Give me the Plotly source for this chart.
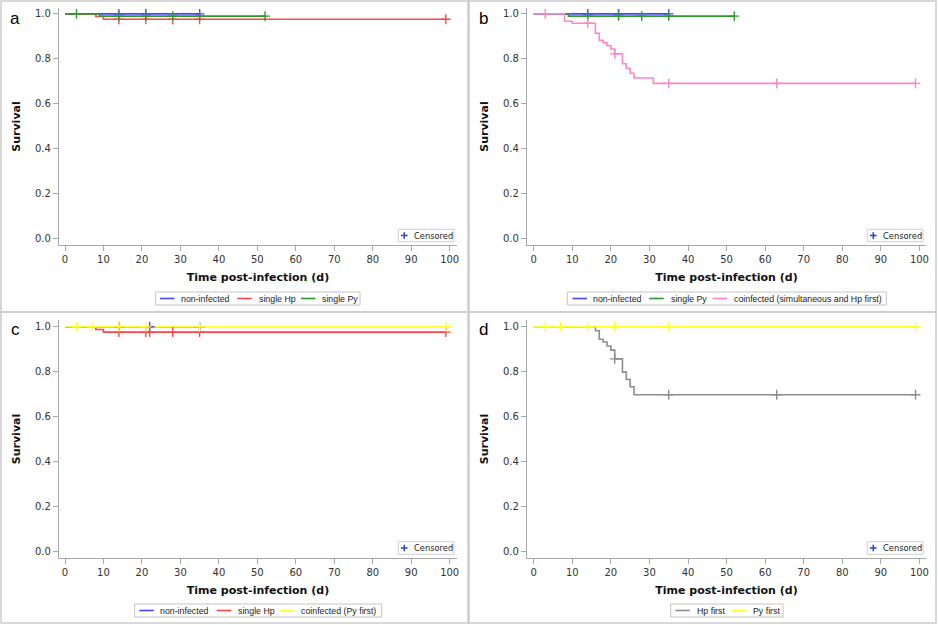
import plotly.graph_objects as go

# ---------------- data ----------------
# Panel a
a_noninf_evt_t = []
a_noninf_evt_s = []
a_noninf_end = 35
a_noninf_cens = [14, 21, 35]

a_hp_evt_t = [8, 10]
a_hp_evt_s = [0.988, 0.976]
a_hp_end = 99
a_hp_cens = [14, 21, 28, 35, 99]

a_py_evt_t = [9]
a_py_evt_s = [0.99]
a_py_end = 52
a_py_cens = [3, 14, 21, 28, 35, 52]

# Panel b
b_noninf_evt_t = []
b_noninf_evt_s = []
b_noninf_end = 35
b_noninf_cens = [14, 22, 35]

b_py_evt_t = [9]
b_py_evt_s = [0.99]
b_py_end = 52
b_py_cens = [14, 22, 28, 35, 52]

b_coinf_evt_t = [8, 10, 16, 17, 18, 19, 20, 21, 23, 24, 25, 26, 31]
b_coinf_evt_s = [0.967, 0.958, 0.914, 0.882, 0.872, 0.858, 0.844, 0.822,
                 0.778, 0.757, 0.736, 0.715, 0.691]
b_coinf_end = 99
b_coinf_cens = [3, 14, 21, 35, 63, 99]

# Panel c
c_noninf_evt_t = []
c_noninf_evt_s = []
c_noninf_end = 35
c_noninf_cens = [14, 22, 35]

c_hp_evt_t = [8, 10]
c_hp_evt_s = [0.988, 0.976]
c_hp_end = 99
c_hp_cens = [14, 21, 22, 28, 35, 99]

c_pyfirst_evt_t = []
c_pyfirst_evt_s = []
c_pyfirst_end = 99
c_pyfirst_cens = [3, 7, 14, 21, 35, 99]

# Panel d
d_hpfirst_evt_t = [16, 17, 18, 19, 20, 21, 23, 24, 25, 26]
d_hpfirst_evt_s = [0.982, 0.944, 0.932, 0.914, 0.896, 0.857, 0.798, 0.765, 0.733, 0.697]
d_hpfirst_end = 99
d_hpfirst_cens = [21, 35, 63, 99]

d_pyfirst_evt_t = []
d_pyfirst_evt_s = []
d_pyfirst_end = 99
d_pyfirst_cens = [3, 7, 14, 21, 35, 99]

x_ticks = [0, 10, 20, 30, 40, 50, 60, 70, 80, 90, 100]
y_ticks = [0.0, 0.2, 0.4, 0.6, 0.8, 1.0]
y_tick_labels = ["0.0", "0.2", "0.4", "0.6", "0.8", "1.0"]
panel_letters = ["a", "b", "c", "d"]
x_title = "Time post-infection (d)"
y_title = "Survival"
censored_label = "Censored"

# ---------------- styling ----------------
W, H = 938, 625
BLUE = "#4646ff"
RED = "#ff4646"
GREEN = "#2e9a2e"
PINK = "#ff85c6"
YELLOW = "#ffff2a"
GRAY = "#8e8e8e"
CENS = "#2a4fc0"

panels = [
    [("non-infected", BLUE, a_noninf_evt_t, a_noninf_evt_s, a_noninf_end, a_noninf_cens),
     ("single Hp", RED, a_hp_evt_t, a_hp_evt_s, a_hp_end, a_hp_cens),
     ("single Py", GREEN, a_py_evt_t, a_py_evt_s, a_py_end, a_py_cens)],
    [("non-infected", BLUE, b_noninf_evt_t, b_noninf_evt_s, b_noninf_end, b_noninf_cens),
     ("single Py", GREEN, b_py_evt_t, b_py_evt_s, b_py_end, b_py_cens),
     ("coinfected (simultaneous and Hp first)", PINK, b_coinf_evt_t, b_coinf_evt_s,
      b_coinf_end, b_coinf_cens)],
    [("non-infected", BLUE, c_noninf_evt_t, c_noninf_evt_s, c_noninf_end, c_noninf_cens),
     ("single Hp", RED, c_hp_evt_t, c_hp_evt_s, c_hp_end, c_hp_cens),
     ("coinfected (Py first)", YELLOW, c_pyfirst_evt_t, c_pyfirst_evt_s,
      c_pyfirst_end, c_pyfirst_cens)],
    [("Hp first", GRAY, d_hpfirst_evt_t, d_hpfirst_evt_s, d_hpfirst_end, d_hpfirst_cens),
     ("Py first", YELLOW, d_pyfirst_evt_t, d_pyfirst_evt_s, d_pyfirst_end, d_pyfirst_cens)],
]
suffixes = ["", "2", "3", "4"]

# pixel geometry of each panel (plot area) and axis ranges
geom = [
    dict(l=59, r=457, t=8, b=245, xr=[-1.56, 101.9], yr=[-0.027, 1.026], ox=0, oy=0),
    dict(l=527, r=926, t=8, b=245, xr=[-1.74, 101.7], yr=[-0.027, 1.026], ox=468, oy=0),
    dict(l=59, r=457, t=320, b=558, xr=[-1.56, 101.9], yr=[-0.030, 1.03], ox=0, oy=311),
    dict(l=527, r=926, t=320, b=558, xr=[-1.74, 101.7], yr=[-0.030, 1.03], ox=468, oy=311),
]

# legend layout (pixels): box (x0, x1, y0, y1) and per item (line start, text start)
legend_boxes = [
    dict(box=(155.7, 360, 292, 305), items=[(160, 179), (237.3, 256.7), (301, 320)]),
    dict(box=(567.3, 886.3, 292, 305), items=[(572.5, 591), (649.2, 669.2), (712.5, 731.5)]),
    dict(box=(134.7, 381.7, 604, 617), items=[(139.3, 157.7), (216.7, 235.7), (280, 299)]),
    dict(box=(670.7, 783, 604, 617), items=[(675.3, 695.3), (732, 751.3)]),
]
cens_boxes = [(398.3, 454, 229.3, 241.7), (867.3, 923, 229.3, 241.7),
              (398.3, 454, 541.7, 554.3), (867.3, 923, 541.7, 554.3)]


def km_xy(evt_t, evt_s, end):
    xs = [0] + list(evt_t) + [end]
    ys = [1.0] + list(evt_s) + [evt_s[-1] if evt_s else 1.0]
    return xs, ys


def surv_at(t, evt_t, evt_s):
    s = 1.0
    for ti, si in zip(evt_t, evt_s):
        if ti <= t:
            s = si
    return s


def PX(x):
    return x / W


def PY(y):
    return 1 - y / H


fig = go.Figure()

for series, sfx in zip(panels, suffixes):
    xa = "x" + sfx
    ya = "y" + sfx
    for name, col, et, es, end, cens in series:
        xs, ys = km_xy(et, es, end)
        fig.add_trace(go.Scatter(x=xs, y=ys, mode="lines", name=name,
                                 line=dict(shape="hv", color=col, width=1.6),
                                 xaxis=xa, yaxis=ya, showlegend=False, hoverinfo="skip"))
    for name, col, et, es, end, cens in series:
        fig.add_trace(go.Scatter(x=cens, y=[surv_at(t, et, es) for t in cens], mode="markers",
                                 name=name + " (censored)",
                                 marker=dict(symbol="cross-thin", size=7,
                                             line=dict(color=col, width=1.4)),
                                 xaxis=xa, yaxis=ya, showlegend=False, hoverinfo="skip"))

AX_COL = "#a8a8a8"
TICK_FONT = dict(family="DejaVu Sans", size=10, color="#333333")
TITLE_FONT = dict(family="DejaVu Sans", size=11, color="#111111", weight="bold")
LEG_FONT = dict(family="Liberation Sans, Arial", size=8.8, color="#222222")

layout = dict(width=W, height=H, margin=dict(l=0, r=0, t=0, b=0),
              paper_bgcolor="white", plot_bgcolor="white", showlegend=False)

shapes = []
annotations = []

for i, (series, sfx, g) in enumerate(zip(panels, suffixes, geom)):
    layout["xaxis" + sfx] = dict(
        domain=[PX(g["l"]), PX(g["r"])], range=g["xr"], anchor="y" + sfx,
        tickvals=x_ticks, showline=True, linecolor=AX_COL, linewidth=1.2,
        ticks="outside", ticklen=5, tickcolor=AX_COL, tickwidth=1,
        showgrid=False, zeroline=False, tickfont=TICK_FONT, fixedrange=True,
        title=dict(text=x_title, font=TITLE_FONT, standoff=9), automargin=False)
    layout["yaxis" + sfx] = dict(
        domain=[PY(g["b"]), PY(g["t"])], range=g["yr"], anchor="x" + sfx,
        tickvals=y_ticks, ticktext=y_tick_labels, showline=True, linecolor=AX_COL,
        linewidth=1.2, ticks="outside", ticklen=5, tickcolor=AX_COL, tickwidth=1,
        showgrid=False, zeroline=False, tickfont=TICK_FONT, fixedrange=True,
        title=dict(text=y_title, font=TITLE_FONT, standoff=12), automargin=False)

    # panel frame
    x0, y0 = g["ox"], g["oy"]
    shapes.append(dict(type="rect", xref="paper", yref="paper",
                       x0=PX(x0 + 1), x1=PX(x0 + 468), y0=PY(y0 + 312), y1=PY(y0 + 1),
                       line=dict(color="#cccccc", width=1.5), fillcolor="rgba(0,0,0,0)"))
    annotations.append(dict(text=panel_letters[i], xref="paper", yref="paper",
                            x=PX(x0 + 15), y=PY(y0 + 18), showarrow=False,
                            xanchor="center", yanchor="middle",
                            font=dict(family="Liberation Sans, Arial", size=17, color="black")))

    # series legend under the panel
    lb = legend_boxes[i]
    bx0, bx1, by0, by1 = lb["box"]
    ymid = (by0 + by1) / 2
    shapes.append(dict(type="rect", xref="paper", yref="paper",
                       x0=PX(bx0), x1=PX(bx1), y0=PY(by1), y1=PY(by0),
                       line=dict(color="#c4c4c4", width=1), fillcolor="white"))
    for (lx, tx), (name, col, *_rest) in zip(lb["items"], series):
        shapes.append(dict(type="line", xref="paper", yref="paper",
                           x0=PX(lx), x1=PX(lx + 14.5), y0=PY(ymid), y1=PY(ymid),
                           line=dict(color=col, width=1.6)))
        annotations.append(dict(text=name, xref="paper", yref="paper", x=PX(tx), y=PY(ymid + 0.3),
                                xanchor="left", yanchor="middle", showarrow=False,
                                font=LEG_FONT))

    # "Censored" key inside the plot area
    cx0, cx1, cy0, cy1 = cens_boxes[i]
    cmid = (cy0 + cy1) / 2
    shapes.append(dict(type="rect", xref="paper", yref="paper",
                       x0=PX(cx0), x1=PX(cx1), y0=PY(cy1), y1=PY(cy0),
                       line=dict(color="#d0d0d0", width=1), fillcolor="white"))
    pcx = cx0 + 6
    shapes.append(dict(type="line", xref="paper", yref="paper",
                       x0=PX(pcx - 3.3), x1=PX(pcx + 3.3), y0=PY(cmid), y1=PY(cmid),
                       line=dict(color=CENS, width=1.6)))
    shapes.append(dict(type="line", xref="paper", yref="paper",
                       x0=PX(pcx), x1=PX(pcx), y0=PY(cmid - 3.3), y1=PY(cmid + 3.3),
                       line=dict(color=CENS, width=1.6)))
    annotations.append(dict(text=censored_label, xref="paper", yref="paper",
                            x=PX(cx0 + 13.5), y=PY(cmid + 0.3), xanchor="left", yanchor="middle",
                            showarrow=False,
                            font=dict(family="DejaVu Sans", size=8.3, color="#222222")))

layout["shapes"] = shapes
layout["annotations"] = annotations
fig.update_layout(**layout)

fig.write_html("out.html", config={"displayModeBar": False},
               post_script="document.body.style.margin='0px';")
